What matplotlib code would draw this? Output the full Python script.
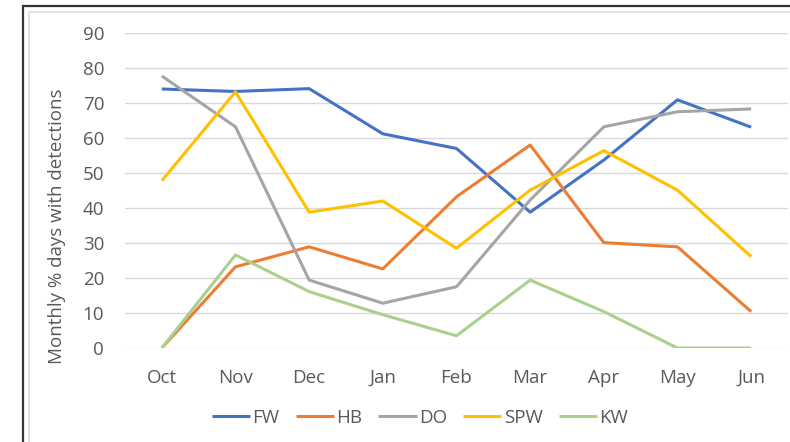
import matplotlib.pyplot as plt
from matplotlib.patches import Rectangle

months = ["Oct", "Nov", "Dec", "Jan", "Feb", "Mar", "Apr", "May", "Jun"]
fw = [74.0, 73.3, 74.1, 61.2, 57.0, 38.8, 53.7, 70.9, 63.1]
hb = [0.0, 23.2, 28.9, 22.6, 43.2, 58.0, 30.1, 28.9, 10.4]
do = [77.7, 63.2, 19.4, 12.8, 17.5, 42.3, 63.2, 67.5, 68.3]
spw = [47.8, 73.2, 38.8, 42.0, 28.5, 45.1, 56.4, 45.1, 26.1]
kw = [0.0, 26.6, 16.1, 9.5, 3.5, 19.4, 10.4, 0.0, 0.0]
y_ticks = [0, 10, 20, 30, 40, 50, 60, 70, 80, 90]

series = [
    ("FW", fw, "#4472C4"),
    ("HB", hb, "#ED7D31"),
    ("DO", do, "#A5A5A5"),
    ("SPW", spw, "#FFC000"),
    ("KW", kw, "#A9D18E"),
]

plt.rcParams["font.family"] = ["Open Sans", "DejaVu Sans"]
text_color = "#595959"
font_size = 13.5

fig = plt.figure(figsize=(7.9, 4.42), dpi=100)

# screenshot frame: dark outer border and light chart-area border
fig.patches.append(Rectangle((23 / 790, -0.1), 1.2, 1 - 6.5 / 442 + 0.1,
                             transform=fig.transFigure, fill=False,
                             edgecolor="#333333", linewidth=1.6))
fig.patches.append(Rectangle((28.5 / 790, -0.1), 1.2, 1 - 11.5 / 442 + 0.1,
                             transform=fig.transFigure, fill=False,
                             edgecolor="#dddddd", linewidth=1.2))

ax = fig.add_axes([125 / 790, 1 - 348 / 442, 663 / 790, 315 / 442])
x = list(range(len(months)))
for name, values, color in series:
    ax.plot(x, values, color=color, linewidth=2.2, label=name,
            solid_joinstyle="round", solid_capstyle="butt")

ax.set_xlim(-0.5, len(months) - 0.5)
ax.set_ylim(0, 90)
ax.set_yticks(y_ticks)
ax.set_xticks(x)
ax.set_xticklabels(months)
ax.grid(axis="y", color="#d9d9d9", linewidth=1.0)
ax.set_axisbelow(True)
for spine in ax.spines.values():
    spine.set_visible(False)
ax.tick_params(length=0, labelsize=font_size, colors=text_color)
ax.tick_params(axis="y", pad=15)
ax.tick_params(axis="x", pad=15)

fig.text(57 / 790, 1 - 226 / 442, "Monthly % days with detections",
         rotation=90, ha="center", va="center", fontsize=font_size,
         color=text_color)

leg = fig.legend(loc="center", bbox_to_anchor=(420 / 790, 1 - 418 / 442),
                 ncol=5, frameon=False, fontsize=font_size, handlelength=2.05,
                 handletextpad=0.12, columnspacing=0.85)
for text in leg.get_texts():
    text.set_color(text_color)

plt.savefig("out.png", dpi=100)
plt.close()
